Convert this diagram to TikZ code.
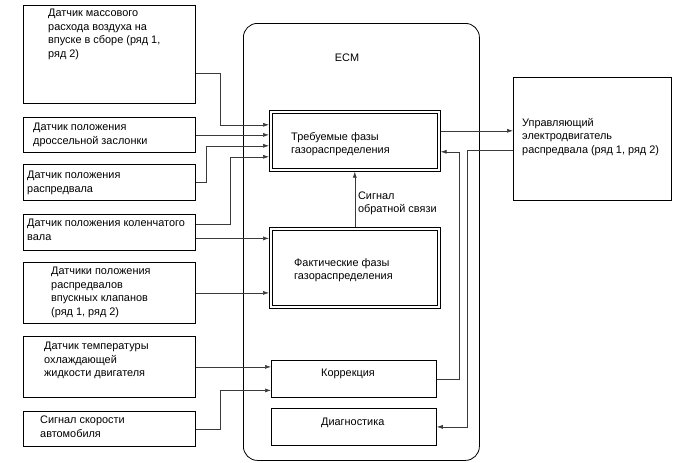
\documentclass[tikz,border=0pt]{standalone}
\usepackage{fontspec}
\setmainfont{Liberation Sans}
\usetikzlibrary{positioning, arrows.meta}
\definecolor{wire}{HTML}{3A3A3A}

\begin{document}
\begin{tikzpicture}[x=1pt,y=-1pt,font=\fontsize{10.9}{13.5}\selectfont]
    \tikzset{box/.style={draw,line width=0.8pt,anchor=north west,inner sep=0pt}, dbl/.style={box,double,double distance=2pt,outer sep=1.8pt}, txt/.style={anchor=north west,inner sep=0pt,align=left}, conn/.style={draw=wire,line width=0.6pt,-{Latex[length=6pt,width=4pt]}}}
    \useasboundingbox (0,0) rectangle (688,463);
    % sensors
    \node[box,minimum width=172pt,minimum height=98pt] (maf) at (23,5) {};
    \node[box,minimum width=172pt,minimum height=35pt] (thr) at (23,117) {};
    \node[box,minimum width=172pt,minimum height=36pt] (cam) at (23,164) {};
    \node[box,minimum width=172pt,minimum height=36pt] (crk) at (23,214) {};
    \node[box,minimum width=172pt,minimum height=61pt] (icam) at (23,262) {};
    \node[box,minimum width=172pt,minimum height=61pt] (ect) at (23,336) {};
    \node[box,minimum width=172pt,minimum height=35pt] (spd) at (23,411) {};
    \node[txt] (maf-t) at (48,9) {Датчик массового\\расхода воздуха на\\впуске в сборе (ряд 1,\\ряд 2)};
    \node[txt] (thr-t) at (33,123) {Датчик положения\\дроссельной заслонки};
    \node[txt] (cam-t) at (27,171) {Датчик положения\\распредвала};
    \node[txt] (crk-t) at (27,219) {Датчик положения коленчатого\\вала};
    \node[txt] (icam-t) at (51,267) {Датчики положения\\распредвалов\\впускных клапанов\\(ряд 1, ряд 2)};
    \node[txt] (ect-t) at (44,342) {Датчик температуры\\охлаждающей\\жидкости двигателя};
    \node[txt] (spd-t) at (40,416) {Сигнал скорости\\автомобиля};
    % ECM
    \node[box,rounded corners=14pt,minimum width=236pt,minimum height=437pt] (ecm) at (243,23) {};
    \node (ecm-t) at (347,58) {ECM};
    \node[dbl,minimum width=168pt,minimum height=58pt] (req) at (269,110) {};
    \node[dbl,minimum width=168pt,minimum height=78pt] (act) at (269,227) {};
    \node[box,minimum width=165pt,minimum height=37pt] (cor) at (271,360) {};
    \node[box,minimum width=165pt,minimum height=37pt] (dia) at (271,408) {};
    \node[txt] (req-t) at (291,132) {Требуемые фазы\\газораспределения};
    \node[txt] (act-t) at (294,258) {Фактические фазы\\газораспределения};
    \node[txt] (cor-t) at (321,369) {Коррекция};
    \node[txt] (dia-t) at (321,418) {Диагностика};
    % actuator
    \node[box,minimum width=158pt,minimum height=123pt] (mot) at (513,77) {};
    \node[txt] (mot-t) at (522,118) {Управляющий\\электродвигатель\\распредвала (ряд 1, ряд 2)};
    % wiring
    \coordinate (k1) at ([yshift=-6pt]crk.east);
    \coordinate (r1) at ([yshift=10pt]req.east);
    \draw[conn] ([yshift=31pt]maf.south east) -- ++(24,0) |- ([yshift=16pt]req.west);
    \draw[conn] (thr.east) -- (thr.east -| req.west);
    \draw[conn] (cam.east) -- ++(10,0) |- ([yshift=-5pt]req.west);
    \draw[conn] ([yshift=8pt]crk.east) -- ++(34,0) |- ([yshift=-16pt]req.west);
    \draw[conn] (k1) -- (k1 -| act.west);
    \draw[conn] (icam.east) -- (icam.east -| act.west);
    \draw[conn] (ect.east) -- (ect.east -| cor.west);
    \draw[conn] (spd.east) -- ++(24,0) |- ([yshift=-11.5pt]cor.west);
    \draw[conn] (act.north) -- node[right,align=left,pos=0.43,inner sep=3pt] (fb) {Сигнал\\обратной связи} (req.south);
    \draw[conn] (r1) -- (r1 -| mot.west);
    \draw[conn] (cor.east) -- ++(22,0) |- ([yshift=-11pt]req.east);
    \draw[conn] ([yshift=-11pt]mot.west) -- ++(-46,0) |- (dia.east);
\end{tikzpicture}
\end{document}
